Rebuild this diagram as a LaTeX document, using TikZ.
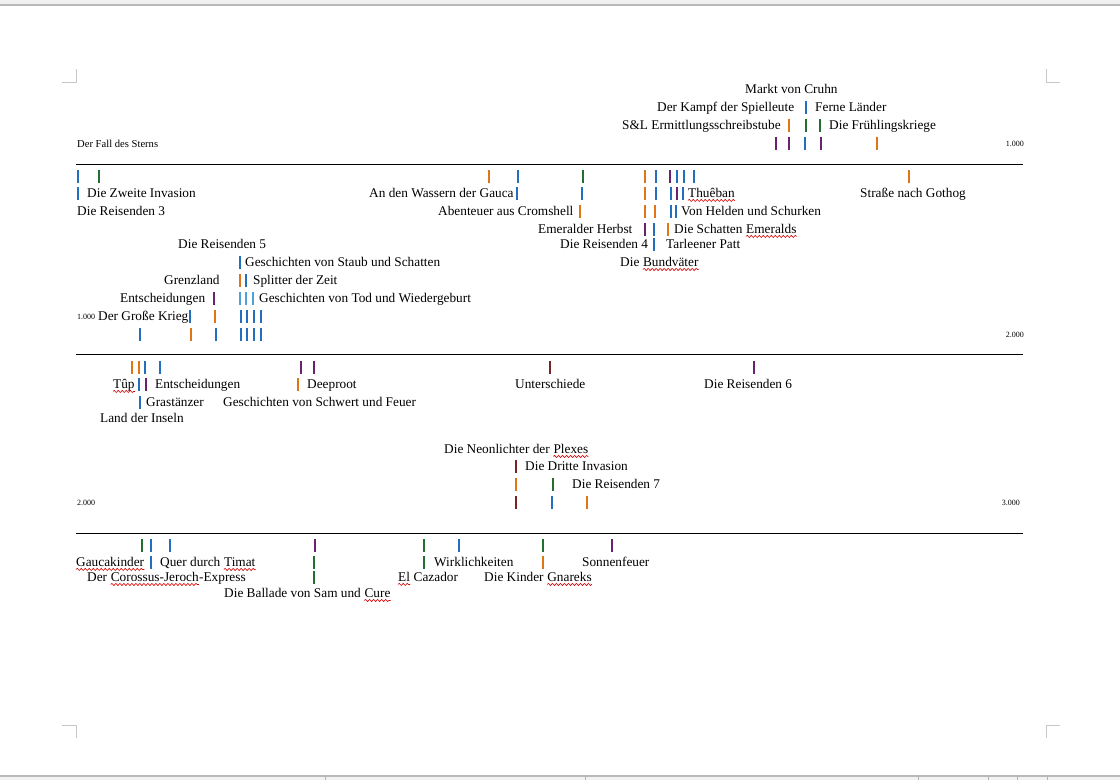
\documentclass[tikz,border=0pt]{standalone}
\usepackage{fontspec}
\setmainfont{Liberation Serif}
\usepackage{xcolor}
\usetikzlibrary{positioning,decorations.pathmorphing}
\definecolor{cb}{RGB}{36,110,190}
\definecolor{co}{RGB}{222,118,24}
\definecolor{cg}{RGB}{34,112,48}
\definecolor{cp}{RGB}{104,34,110}
\definecolor{cd}{RGB}{120,36,36}
\definecolor{cl}{RGB}{80,160,220}
\definecolor{frame}{RGB}{200,200,200}

\begin{document}
\begin{tikzpicture}[x=1pt,y=-1pt,node distance=3.3pt,
  lbl/.style={anchor=west,inner sep=0pt,text height=9.5pt,text depth=3pt,
              font=\fontsize{13.3}{16}\selectfont},
  small/.style={anchor=west,inner sep=0pt,font=\fontsize{10.6}{12}\selectfont},
  tiny/.style={anchor=west,inner sep=0pt,font=\fontsize{8}{9}\selectfont},
  tick/.style={line width=1.1pt},
  rule/.style={line width=1pt,black},
  crop/.style={frame,line width=1pt},
  wave/.style={red!85!black,line width=0.6pt,decorate,
               decoration={snake,amplitude=1.1pt,segment length=4pt}}]

  \useasboundingbox (0,0) rectangle (1120,780);

  % window chrome
  \fill[gray!12] (0,0) rectangle (1120,5);
  \draw[gray!55,line width=1.5pt] (0,5) -- (1120,5);
  \fill[gray!10] (0,776) rectangle (1120,780);
  \draw[gray!55,line width=1.2pt] (0,776) -- (1120,776);
  \foreach \x in {325,585,918,988,1017,1047}
    \draw[gray!60] (\x,777) -- (\x,780);

  % crop marks
  \draw[crop] (62,82) -- (76,82) -- (76,69);
  \draw[crop] (1060,82) -- (1046,82) -- (1046,69);
  \draw[crop] (62,725) -- (76,725) -- (76,738);
  \draw[crop] (1060,725) -- (1046,725) -- (1046,738);

  % rules
  \draw[rule] (76,164) -- (1023,164);
  \draw[rule] (76,354) -- (1023,354);
  \draw[rule] (76,533) -- (1023,533);

  % band 1
  \node (markt)     [lbl] at (745,90.5)  {Markt von Cruhn};
  \node (kampf)     [lbl] at (657,108.5) {Der Kampf der Spielleute};
  \node (ferne)     [lbl] at (815,108.5) {Ferne Länder};
  \node (sl)        [lbl] at (622,126.5) {S\&L Ermittlungsschreibstube};
  \node (fruehling) [lbl] at (829,126.5) {Die Frühlingskriege};
  \node (fall)      [small] at (77,144) {Der Fall des Sterns};
  \node (mark1)     [tiny,anchor=east] at (1024,144) {1.000};

  \node (zweite)    [lbl] at (87,194.5)  {Die Zweite Invasion};
  \node (wassern)   [lbl] at (369,194.5) {An den Wassern der Gauca};
  \node (thueban)   [lbl] at (688,194.5) {Thuêban};
  \node (gothog)    [lbl] at (860,194.5) {Straße nach Gothog};
  \node (reisen3)   [lbl] at (77,212.5)  {Die Reisenden 3};
  \node (cromshell) [lbl] at (438,212.5) {Abenteuer aus Cromshell};
  \node (helden)    [lbl] at (681,212.5) {Von Helden und Schurken};
  \node (herbst)    [lbl] at (538,230.5) {Emeralder Herbst};
  \node (schatten)  [lbl] at (674,230.5) {Die Schatten};
  \node (emeralds)  [lbl,right=of schatten] {Emeralds};
  \node (reisen5)   [lbl] at (178,245.5) {Die Reisenden 5};
  \node (reisen4)   [lbl] at (560,245.5) {Die Reisenden 4};
  \node (patt)      [lbl] at (666,245.5) {Tarleener Patt};
  \node (staub)     [lbl] at (245,263.5) {Geschichten von Staub und Schatten};
  \node (die)       [lbl] at (620,263.5) {Die};
  \node (bund)      [lbl,right=of die] {Bundväter};
  \node (grenz)     [lbl] at (164,281.5) {Grenzland};
  \node (splitter)  [lbl] at (253,281.5) {Splitter der Zeit};
  \node (entsch1)   [lbl] at (120,299.5) {Entscheidungen};
  \node (tod)       [lbl] at (259,299.5) {Geschichten von Tod und Wiedergeburt};
  \node (mark2)     [tiny] at (77,317) {1.000};
  \node (krieg)     [lbl] at (98,317.5)  {Der Große Krieg};
  \node (mark3)     [tiny,anchor=east] at (1024,335) {2.000};

  % band 2
  \node (tuep)      [lbl] at (113,385.5) {Tûp};
  \node (entsch2)   [lbl] at (155,385.5) {Entscheidungen};
  \node (deeproot)  [lbl] at (307,385.5) {Deeproot};
  \node (unter)     [lbl] at (515,385.5) {Unterschiede};
  \node (reisen6)   [lbl] at (704,385.5) {Die Reisenden 6};
  \node (gras)      [lbl] at (146,403.5) {Grastänzer};
  \node (schwert)   [lbl] at (223,403.5) {Geschichten von Schwert und Feuer};
  \node (inseln)    [lbl] at (100,419.5) {Land der Inseln};
  \node (neon)      [lbl] at (444,450.5) {Die Neonlichter der};
  \node (plexes)    [lbl,right=of neon] {Plexes};
  \node (dritte)    [lbl] at (525,467.5) {Die Dritte Invasion};
  \node (reisen7)   [lbl] at (572,485.5) {Die Reisenden 7};
  \node (mark4)     [tiny] at (77,503) {2.000};
  \node (mark5)     [tiny,anchor=east] at (1020,503) {3.000};

  % band 3
  \node (gauca)     [lbl] at (76,563.5)  {Gaucakinder};
  \node (quer)      [lbl] at (160,563.5) {Quer durch};
  \node (timat)     [lbl,right=of quer] {Timat};
  \node (wirk)      [lbl] at (434,563.5) {Wirklichkeiten};
  \node (sonne)     [lbl] at (582,563.5) {Sonnenfeuer};
  \node (der)       [lbl] at (87,578.5)  {Der};
  \node (corossus)  [lbl,right=of der] {Corossus-Jeroch};
  \node (express)   [lbl,right=0pt of corossus] {-Express};
  \node (el)        [lbl] at (398,578.5) {El};
  \node (cazador)   [lbl,right=of el] {Cazador};
  \node (kinder)    [lbl] at (484,578.5) {Die Kinder};
  \node (gnareks)   [lbl,right=of kinder] {Gnareks};
  \node (ballade)   [lbl] at (224,594.5) {Die Ballade von Sam und};
  \node (cure)      [lbl,right=of ballade] {Cure};

  % spelling marks
  \foreach \n in {thueban,emeralds,bund,tuep,plexes,gauca,timat,corossus,el,gnareks,cure}
    \draw[wave] ([yshift=0.5pt]\n.south west) -- ([yshift=0.5pt]\n.south east);

  % ticks
  \foreach \x/\y/\c in {806/107/cb,
      789/125/co, 806/125/cg, 820/125/cg,
      776/143/cp, 789/143/cp, 805/143/cb, 821/143/cp, 877/143/co,
      78/176/cb, 99/176/cg, 489/176/co, 518/176/cb, 583/176/cg, 645/176/co,
      656/176/cb, 670/176/cp, 677/176/cb, 684/176/cb, 694/176/cb, 909/176/co,
      78/193/cb, 517/193/cb, 582/193/cb, 645/193/co, 656/193/cb,
      671/193/cb, 677/193/cp, 683/193/cb,
      580/211/co, 645/211/co, 655/211/co, 671/211/cb, 676/211/cb,
      645/229/cp, 654/229/cb, 668/229/co,
      654/244/cb,
      240/262/cb,
      240/280/co, 246/280/cb,
      214/298/cp, 240/298/cl, 246/298/cl, 253/298/cl,
      190/316/cb, 215/316/co, 241/316/cb, 247/316/cb, 254/316/cb, 261/316/cb,
      140/334/cb, 191/334/co, 216/334/cb, 241/334/cb, 247/334/cb, 254/334/cb, 261/334/cb,
      132/367/co, 139/367/co, 145/367/cb, 160/367/cb, 301/367/cp, 314/367/cp,
      550/367/cd, 754/367/cp,
      139/384/cb, 146/384/cp, 298/384/co,
      140/402/cb,
      516/466/cd,
      516/484/co, 553/484/cg,
      516/502/cd, 552/502/cb, 587/502/co,
      142/545/cg, 151/545/cb, 170/545/cb, 315/545/cp, 424/545/cg, 459/545/cb,
      543/545/cg, 612/545/cp,
      151/562/cb, 314/562/cg, 424/562/cg, 543/562/co,
      314/577/cg}{
    \draw[tick,\c] (\x,\y-6) -- (\x,\y+7);
  }
\end{tikzpicture}
\end{document}
